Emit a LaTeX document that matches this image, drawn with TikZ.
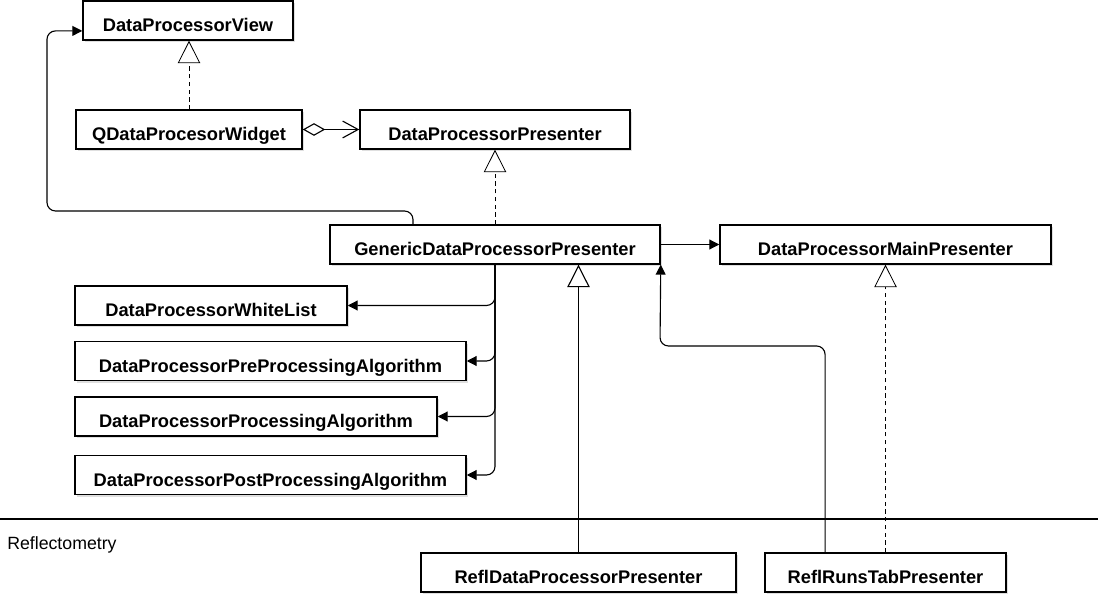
\documentclass[tikz,border=0pt]{standalone}
\usepackage{fontspec}
\setmainfont{Liberation Sans}
\usetikzlibrary{arrows.meta, shadows}

\tikzset{
    classbox/.style={draw, line width=1pt, fill=white, minimum height=0.975cm,
        font=\fontsize{13}{15}\selectfont\bfseries, inner sep=0pt,
        text height=16pt, text depth=0pt,
        drop shadow={shadow xshift=1.5pt, shadow yshift=-1.5pt, opacity=0.25, fill=gray}},
    assoc/.style={line width=0.8pt, -{Triangle[length=7pt, width=7pt]}},
    inherit/.style={line width=0.8pt, -{Triangle[open, length=16pt, width=16pt, fill=white]}},
    realize/.style={inherit, line width=0.6pt, dash pattern=on 3pt off 2.5pt}
}

\begin{document}
\begin{tikzpicture}[x=0.025cm, y=-0.025cm]
    \useasboundingbox (0,0) rectangle (1106,602);

    % boxes:
    \node[classbox, minimum width=5.25cm] (view) at (188,20.5) {DataProcessorView};
    \node[classbox, minimum width=5.65cm] (widget) at (189,129.5) {QDataProcesorWidget};
    \node[classbox, minimum width=6.75cm] (presenter) at (495,129.5) {DataProcessorPresenter};
    \node[classbox, minimum width=8.25cm] (generic) at (495,244.5) {GenericDataProcessorPresenter};
    \node[classbox, minimum width=8.275cm] (mainpres) at (885.5,244.5) {DataProcessorMainPresenter};
    \node[classbox, minimum width=6.8cm] (whitelist) at (211,305.5) {DataProcessorWhiteList};
    \node[classbox, minimum width=9.775cm] (preproc) at (270.5,361) {DataProcessorPreProcessingAlgorithm};
    \node[classbox, minimum width=9.05cm] (proc) at (256,416.5) {DataProcessorProcessingAlgorithm};
    \node[classbox, minimum width=9.775cm] (postproc) at (270.5,475) {DataProcessorPostProcessingAlgorithm};
    \node[classbox, minimum width=7.875cm] (refl) at (578.5,572.5) {ReflDataProcessorPresenter};
    \node[classbox, minimum width=6.025cm] (runstab) at (885.5,572.5) {ReflRunsTabPresenter};

    % package:
    \draw[line width=0.8pt] (0,519) -- (1098,519);
    \node[anchor=base west, inner sep=0pt, font=\fontsize{12.6}{15}\selectfont] (pkglabel) at (7,550) {Reflectometry};

    % inheritance:
    \draw[realize] (widget.north) -- (widget.north |- view.south);
    \draw[realize] (generic.north) -- (presenter.south);
    \draw[realize] (runstab.north) -- (mainpres.south);
    \draw[inherit] (refl.north) -- (refl.north |- generic.south);

    % associations:
    \draw[line width=0.8pt, {Diamond[open, length=16pt, width=9pt]}-{Straight Barb[length=11pt, width=12pt]}] (widget) -- (presenter);
    \draw[assoc, rounded corners=6pt] ([xshift=-2.05cm]generic.north) |- (47,211) |- ([yshift=-0.26cm]view.west);
    \draw[assoc] (generic) -- (mainpres);
    \foreach \n in {whitelist, preproc, proc, postproc}
        \draw[assoc, rounded corners=6pt] (generic.south) |- (\n.east);
    \coordinate (turn) at (660,346);
    \draw[assoc, rounded corners=6pt] ([xshift=-1.51cm]runstab.north) |- (turn) -- (generic.south east);
\end{tikzpicture}
\end{document}
